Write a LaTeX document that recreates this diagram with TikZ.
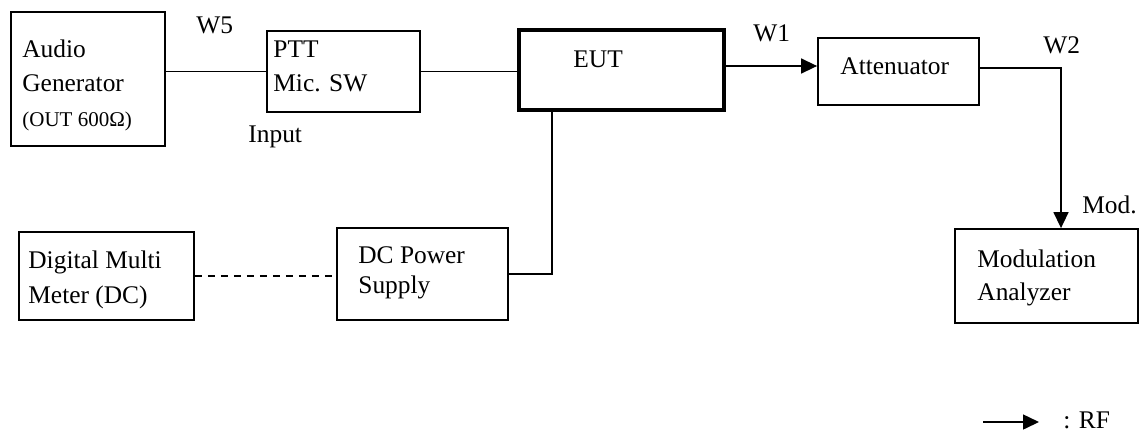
\documentclass[tikz,border=0pt]{standalone}
\usepackage{fontspec}
\setmainfont{Liberation Serif}
\usepackage{tikz}
\usetikzlibrary{arrows.meta,positioning,calc}

\begin{document}
\begin{tikzpicture}[
  x=0.5pt, y=-0.5pt,
  box/.style={draw, line width=0.9pt, inner sep=0pt},
  eutbox/.style={draw, line width=2pt, inner sep=0pt},
  lbl/.style={anchor=base west, inner sep=0pt, align=left,
              font=\fontsize{12.7}{17}\selectfont},
  wire/.style={line width=0.75pt},
  rf/.style={wire, -{Triangle[length=8pt, width=7.5pt]}}
]
\useasboundingbox (0,0) rectangle (1139,435);

% boxes
\node[box, minimum width=77pt, minimum height=67pt] (ag) at (88,79) {};
\node[box, minimum width=76.5pt, minimum height=40.5pt] (ptt) at (343.5,71.5) {};
\node[eutbox, minimum width=102.5pt, minimum height=40pt] (eut) at (621.5,70) {};
\node[box, minimum width=80.5pt, minimum height=33.5pt] (att) at (898.5,71.5) {};
\node[box, minimum width=87.5pt, minimum height=44pt] (dmm) at (106.5,276) {};
\node[box, minimum width=85.5pt, minimum height=46pt] (dcps) at (422.5,274) {};
\node[box, minimum width=91.5pt, minimum height=47pt] (mod) at (1046.5,276) {};

% box texts (base = last line)
\node[lbl] (agtxt) at (22,91) {Audio\\Generator};
\node[lbl, font=\fontsize{10.5}{12}\selectfont] (agout) at (22,126) {(OUT 600Ω)};
\node[lbl] (ptttxt) at (273,91) {PTT\\Mic. SW};
\node[lbl] (euttxt) at (573,67) {EUT};
\node[lbl] (atttxt) at (840,74) {Attenuator};
\node[lbl, font=\fontsize{12.7}{17.5}\selectfont] (dmmtxt) at (28,303) {Digital Multi\\Meter (DC)};
\node[lbl, font=\fontsize{12.7}{15}\selectfont] (dcpstxt) at (358,293) {DC Power\\Supply};
\node[lbl, font=\fontsize{12.7}{16.5}\selectfont] (modtxt) at (977,300) {Modulation\\Analyzer};

% cable labels
\node[lbl] (w5) at (196,33) {W5};
\node[lbl] (input) at (248,142) {Input};
\node[lbl] (w1) at (753,41) {W1};
\node[lbl] (w2) at (1043,53) {W2};
\node[lbl] (modlbl) at (1082,213) {Mod.};

% connections
\draw[wire] (ag.east |- ptt.west) -- (ptt.west);
\draw[wire] (ptt.east) -- (ptt.east -| eut.west);
\draw[rf] ([yshift=2.75pt]att.west -| eut.east) -- ([yshift=2.75pt]att.west);
\coordinate (modin) at ([xshift=7.25pt]mod.north);
\draw[rf] ([yshift=1.75pt]att.east) -| (modin);
\draw[wire] ([xshift=17.5pt]eut.south west) |- (dcps.east);
\draw[wire, dash pattern=on 3.5pt off 3pt] (dmm.east) -- (dmm.east -| dcps.west);

% legend
\node[lbl] (rflbl) at (1063,428) {: RF};
\coordinate (rfstart) at (983,422);
\coordinate (rfend) at (1039,422);
\draw[rf] (rfstart) -- (rfend);
\end{tikzpicture}
\end{document}
